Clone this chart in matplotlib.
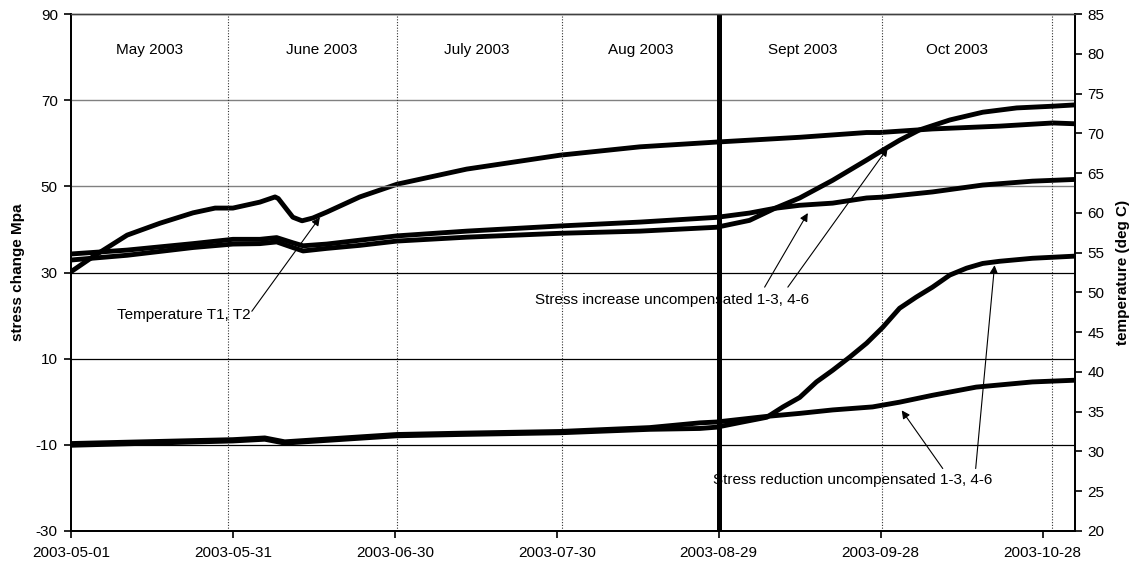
import numpy as np
import matplotlib
matplotlib.use("Agg")
import matplotlib.pyplot as plt
import matplotlib.dates as mdates

plt.rcParams['font.family'] = ['Liberation Sans', 'DejaVu Sans']
plt.rcParams['axes.unicode_minus'] = False

START = '2003-05-01'

# Temperature T1, T2 (deg C, right axis) -- day offsets from START
temp_days = [0, 4.1, 10.4, 16.5, 22.6, 26.7, 30, 35, 37.8, 38.4, 40, 41.1, 42.8, 44.8, 47.4,
             53.5, 60.4, 73.3, 90.6, 105.4, 119.6, 135, 147.4, 149.8, 159.6, 172, 181.9, 186]
temp_vals = [52.6, 54.5, 57.2, 58.7, 60.0, 60.6, 60.6, 61.35, 62.0, 61.8, 60.4, 59.45, 59.0, 59.35, 60.1,
             62.0, 63.6, 65.5, 67.25, 68.3, 68.9, 69.5, 70.1, 70.1, 70.55, 70.9, 71.3, 71.2]

# Stress increase uncompensated (MPa, left axis)
inc_a_days = [0, 10.4, 22.6, 30, 35, 38.1, 41.1, 43, 47.4, 53.5, 60.4, 73.3, 90.6, 105.4, 116.5,
              119.6, 125.7, 130.4, 135, 141.1, 147.4, 150.4, 153.5, 157.2, 162.8, 168.9, 175.2, 181.9, 186]
inc_a_vals = [32.9, 34.0, 35.8, 36.6, 36.7, 37.1, 35.8, 35.0, 35.6, 36.3, 37.3, 38.2, 39.1, 39.6, 40.3,
              40.5, 42.1, 44.9, 47.3, 51.4, 56.1, 58.4, 60.7, 63.1, 65.4, 67.2, 68.2, 68.6, 68.9]
inc_b_days = [0, 10.4, 22.6, 30, 35, 38.1, 41.1, 43, 47.4, 53.5, 60.4, 73.3, 90.6, 105.4, 119.6,
              125.7, 130.4, 135, 141.1, 147.4, 150.4, 159.6, 168.9, 178.1, 186]
inc_b_vals = [34.3, 35.2, 36.7, 37.7, 37.7, 38.1, 36.9, 36.2, 36.6, 37.5, 38.5, 39.6, 40.8, 41.7, 42.8,
              43.8, 44.9, 45.6, 46.1, 47.3, 47.5, 48.7, 50.3, 51.2, 51.6]

# Stress reduction uncompensated (MPa, left axis)
red_a_days = [0, 30, 35.9, 39.6, 60.4, 72, 90.6, 107.2, 116.5, 119.6, 124, 128.9, 131.9, 135, 138.1,
              141.1, 144.3, 147.4, 150.4, 153.5, 156.6, 159.6, 162.8, 165.9, 168.9, 172, 178.1, 186]
red_a_vals = [-10.1, -9.1, -8.7, -9.6, -7.9, -7.6, -7.2, -6.4, -6.2, -5.9, -4.8, -3.6, -1.2, 1.0, 4.6,
              7.3, 10.4, 13.6, 17.3, 21.7, 24.3, 26.6, 29.4, 31.0, 32.1, 32.6, 33.3, 33.8]
red_b_days = [0, 30, 35.9, 39.6, 60.4, 72, 90.6, 107.2, 116.5, 119.6, 128.9, 135, 141.1, 148.5,
              153.5, 159.6, 167.7, 178.1, 186]
red_b_vals = [-9.7, -8.8, -8.4, -9.3, -7.6, -7.3, -6.9, -6.0, -4.9, -4.7, -3.4, -2.7, -1.9, -1.2,
              -0.1, 1.5, 3.4, 4.6, 5.0]

month_labels = ['May 2003', 'June 2003', 'July 2003', 'Aug 2003', 'Sept 2003', 'Oct 2003']
month_label_days = [14.6, 46.5, 75.2, 105.6, 135.6, 164.1]
month_mark_days = [29.1, 60.4, 90.9, 150.3, 181.7]
event_day = 120
tick_days = [0, 30, 60, 90, 120, 150, 180]

base = mdates.datestr2num(START)
X = lambda d: base + np.asarray(d, dtype=float)

fig = plt.figure(figsize=(11.33, 5.66), dpi=100)
ax = fig.add_axes([71/1133, 1-531/566, (1075-71)/1133, (531-14)/566])
ax2 = ax.twinx()
ax.set_zorder(ax2.get_zorder() + 1)
ax.patch.set_visible(False)

ax.set_xlim(X(0), X(186))
ax.set_ylim(-30, 90)
ax2.set_ylim(20, 85)

# horizontal gridlines
for v in [70, 50]:
    ax.axhline(v, color='#808080', lw=1.0, zorder=0)
for v in [30, 10, -10]:
    ax.axhline(v, color='black', lw=0.9, zorder=0)
for d in month_mark_days:
    ax.axvline(X(d), color='#333333', lw=0.8, ls=(0, (1, 1.5)), zorder=0)
ax.axvline(X(event_day), color='black', lw=3.6, zorder=1)

lw = 3.5
kw = dict(color='black', lw=lw, solid_capstyle='butt', solid_joinstyle='round')
ax2.plot(X(temp_days), temp_vals, **kw)
ax.plot(X(inc_a_days), inc_a_vals, **kw)
ax.plot(X(inc_b_days), inc_b_vals, **kw)
ax.plot(X(red_a_days), red_a_vals, **kw)
ax.plot(X(red_b_days), red_b_vals, **kw)

fs = 11
for lab, d in zip(month_labels, month_label_days):
    ax.text(X(d), 81.6, lab, ha='center', va='center', fontsize=fs)

ax.text(X(8.5), 20.1, 'Temperature T1, T2', ha='left', va='center', fontsize=fs)
ax.text(X(85.9), 23.6, 'Stress increase uncompensated 1-3, 4-6', ha='left', va='center', fontsize=fs)
ax.text(X(118.9), -18.2, 'Stress reduction uncompensated 1-3, 4-6', ha='left', va='center', fontsize=fs)

arrows = [((33.5, 21.0), (46.1, 42.8)),
          ((128.5, 26.6), (136.5, 43.8)),
          ((132.8, 26.6), (151.3, 58.9)),
          ((161.5, -15.5), (153.9, -2.0)),
          ((167.6, -15.5), (171.1, 31.7))]
for (tx, ty), (hx, hy) in arrows:
    ax.annotate('', xy=(X(hx), hy), xytext=(X(tx), ty),
                arrowprops=dict(arrowstyle='-|>', color='black', lw=0.8,
                                mutation_scale=12, shrinkA=0, shrinkB=0))

ax.set_xticks(X(tick_days))
ax.xaxis.set_major_formatter(mdates.DateFormatter('%Y-%m-%d'))
ax.set_yticks(np.arange(-30, 91, 20))
ax2.set_yticks(np.arange(20, 86, 5))

ax.tick_params(axis='x', direction='out', length=5, width=1.2, labelsize=fs, pad=6)
ax.tick_params(axis='y', direction='out', length=5, width=1.2, labelsize=fs, pad=4.5)
ax2.tick_params(axis='y', direction='out', length=5, width=1.2, labelsize=fs, pad=4)

for a in (ax, ax2):
    for s in ['left', 'bottom', 'right']:
        a.spines[s].set_linewidth(1.3)
    a.spines['top'].set_linewidth(1.0)
    a.spines['top'].set_color('#404040')

ax.set_ylabel('stress change Mpa', fontsize=fs, fontweight='bold')
ax.yaxis.set_label_coords(-0.0458, 0.5)
ax2.set_ylabel('temperature (deg C)', fontsize=fs, fontweight='bold')
ax2.yaxis.set_label_coords(1.0405, 0.5)

fig.savefig('out.png', dpi=100)
